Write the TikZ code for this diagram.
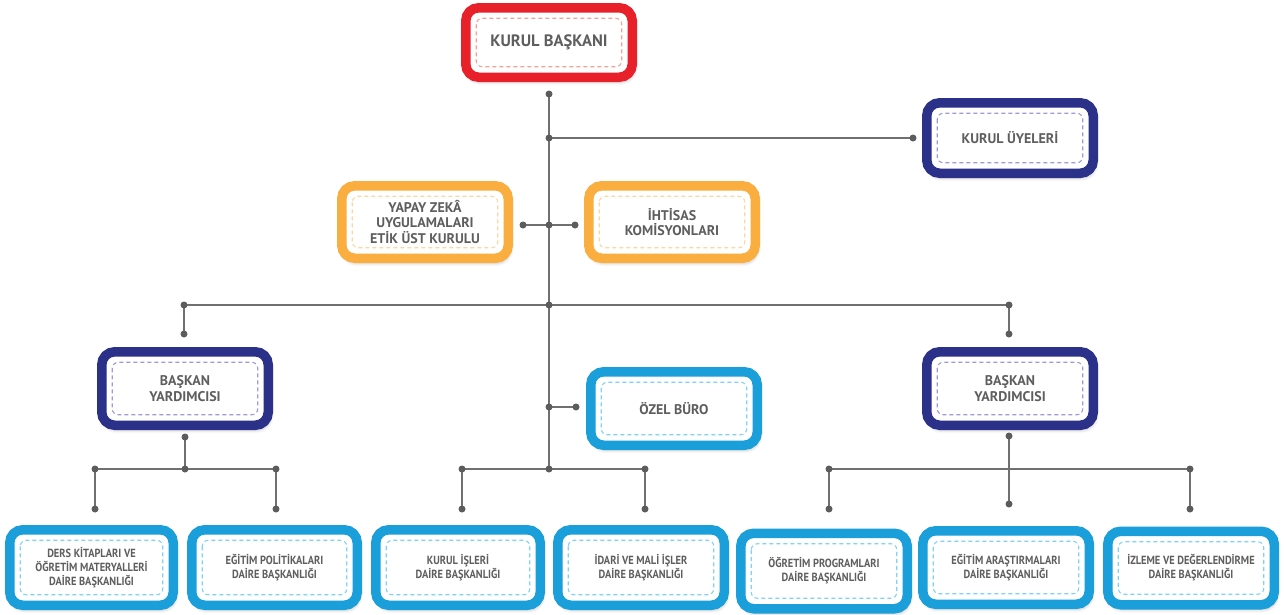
\documentclass[tikz,border=0pt]{standalone}
\usepackage{fontspec}
\setmainfont{PT Sans}
\newfontfamily\narrowfont[FakeStretch=0.88]{PT Sans}
\usetikzlibrary{shadows.blur,calc}
\definecolor{cred}{HTML}{E8202A}
\definecolor{cora}{HTML}{F9AE3F}
\definecolor{cnavy}{HTML}{2B3189}
\definecolor{cblue}{HTML}{1A9FDA}
\definecolor{dred}{HTML}{F4A09B}
\definecolor{dora}{HTML}{FDD6A0}
\definecolor{dnavy}{HTML}{9D9BD8}
\definecolor{dblue}{HTML}{7FD4F6}
\definecolor{txt}{HTML}{5E5E5E}
\definecolor{dotc}{HTML}{5A5C5E}
\definecolor{linec}{HTML}{707070}
\pgfdeclarelayer{bg}
\pgfsetlayers{bg,main}
\tikzset{
  box/.style={draw=#1, line width=9.5pt, fill=white, rounded corners=13pt,
    outer sep=0pt, inner sep=0pt, text=txt, align=center,
    blur shadow={shadow xshift=1.5pt, shadow yshift=-4pt, shadow blur radius=4pt, shadow opacity=35}},
  inner dash/.style={draw=#1, line width=1.1pt, dash pattern=on 4pt off 3pt, rounded corners=6pt},
  jdot/.style={circle, fill=dotc, inner sep=0pt, minimum size=7pt},
  conn/.style={draw=linec, line width=1.4pt},
  fhuge/.style={font=\fontsize{16.5}{18}\selectfont\bfseries},
  fbig/.style={font=\fontsize{14}{16}\selectfont\bfseries},
  fmid/.style={font=\fontsize{14}{15.5}\selectfont\bfseries},
  fsmall/.style={font=\narrowfont\fontsize{11.8}{14}\selectfont\bfseries},
}
% name, x, y, outer w, outer h, box colour, dash colour, font style, text
\newcommand\orgbox[9]{%
  \node[box=#6, #8, minimum width=#4pt-9.5pt, minimum height=#5pt-9.5pt] (#1) at (#2,#3) {#9};
  \draw[inner dash=#7] ($(#1.north west)+(10.5,10.5)$) rectangle ($(#1.south east)+(-10.5,-10.5)$);
}
\begin{document}
\begin{tikzpicture}[x=1pt,y=-1pt]
\useasboundingbox (0,0) rectangle (1284,614);

% boxes
\orgbox{kb}{549}{42.5}{176}{79}{cred}{dred}{fhuge}{KURUL BAŞKANI}
\orgbox{ku}{1010}{138}{176}{80}{cnavy}{dnavy}{fbig}{KURUL ÜYELERİ}
\orgbox{yz}{425}{222}{176}{82}{cora}{dora}{fmid}{YAPAY ZEKÂ\\UYGULAMALARI\\ETİK ÜST KURULU}
\orgbox{ih}{672}{222}{176}{82}{cora}{dora}{fmid}{İHTİSAS\\KOMİSYONLARI}
\orgbox{byl}{185}{388.5}{176}{83}{cnavy}{dnavy}{fmid}{BAŞKAN\\YARDIMCISI}
\orgbox{ob}{674}{408.5}{176}{83}{cblue}{dblue}{fbig}{ÖZEL BÜRO}
\orgbox{byr}{1010}{388.5}{176}{83}{cnavy}{dnavy}{fmid}{BAŞKAN\\YARDIMCISI}
\orgbox{d1}{91.5}{567.5}{173}{85}{cblue}{dblue}{fsmall}{DERS KİTAPLARI VE\\ÖĞRETİM MATERYALLERİ\\DAİRE BAŞKANLIĞI}
\orgbox{d2}{274.5}{567.5}{175}{85}{cblue}{dblue}{fsmall}{EĞİTİM POLİTİKALARI\\DAİRE BAŞKANLIĞI}
\orgbox{d3}{458}{567.5}{174}{85}{cblue}{dblue}{fsmall}{KURUL İŞLERİ\\DAİRE BAŞKANLIĞI}
\orgbox{d4}{641}{567.5}{176}{85}{cblue}{dblue}{fsmall}{İDARİ VE MALİ İŞLER\\DAİRE BAŞKANLIĞI}
\orgbox{d5}{824}{571}{176}{85}{cblue}{dblue}{fsmall}{ÖĞRETİM PROGRAMLARI\\DAİRE BAŞKANLIĞI}
\orgbox{d6}{1006}{567.5}{176}{83}{cblue}{dblue}{fsmall}{EĞİTİM ARAŞTIRMALARI\\DAİRE BAŞKANLIĞI}
\orgbox{d7}{1191}{568}{176}{83}{cblue}{dblue}{fsmall}{İZLEME VE DEĞERLENDİRME\\DAİRE BAŞKANLIĞI}

% junction dots
\node[jdot] (t0) at (549,94) {};
\node[jdot] (t1) at (549,138) {};
\node[jdot] (kuin) at (913,138) {};
\node[jdot] (yzin) at (523,225) {};
\node[jdot] (t2) at (549,225) {};
\node[jdot] (ihin) at (575,225) {};
\node[jdot] (t3) at (549,305) {};
\node[jdot] (hl) at (184,305) {};
\node[jdot] (hr) at (1009,305) {};
\node[jdot] (bylin) at (184,334) {};
\node[jdot] (byrin) at (1009,334) {};
\node[jdot] (t4) at (549,407) {};
\node[jdot] (obin) at (576,407) {};
\node[jdot] (t5) at (549,469) {};
\node[jdot] (cl) at (462,469) {};
\node[jdot] (cr) at (645,469) {};
\node[jdot] (d3in) at (462,509) {};
\node[jdot] (d4in) at (645,509) {};
\node[jdot] (bylout) at (185,437) {};
\node[jdot] (lm) at (185,469) {};
\node[jdot] (ll) at (95,469) {};
\node[jdot] (lr) at (276,469) {};
\node[jdot] (d1in) at (95,509) {};
\node[jdot] (d2in) at (276,509) {};
\node[jdot] (byrout) at (1009,436) {};
\node[jdot] (rl) at (829,469) {};
\node[jdot] (rr) at (1190,469) {};
\node[jdot] (d5in) at (829,509) {};
\node[jdot] (d6in) at (1009,504) {};
\node[jdot] (d7in) at (1190,509) {};

\begin{pgfonlayer}{bg}
\draw[conn] (t0.center) -- (t5.center);
\draw[conn] (t1.center) -- (kuin.center);
\draw[conn] (yzin.center) -- (ihin.center);
\draw[conn] (bylin.center) -- (hl.center) -- (hr.center) -- (byrin.center);
\draw[conn] (t4.center) -- (obin.center);
\draw[conn] (d3in.center) -- (cl.center) -- (cr.center) -- (d4in.center);
\draw[conn] (bylout.center) -- (lm.center);
\draw[conn] (d1in.center) -- (ll.center) -- (lr.center) -- (d2in.center);
\draw[conn] (byrout.center) -- (d6in.center);
\draw[conn] (d5in.center) -- (rl.center) -- (rr.center) -- (d7in.center);
\end{pgfonlayer}
\end{tikzpicture}
\end{document}
